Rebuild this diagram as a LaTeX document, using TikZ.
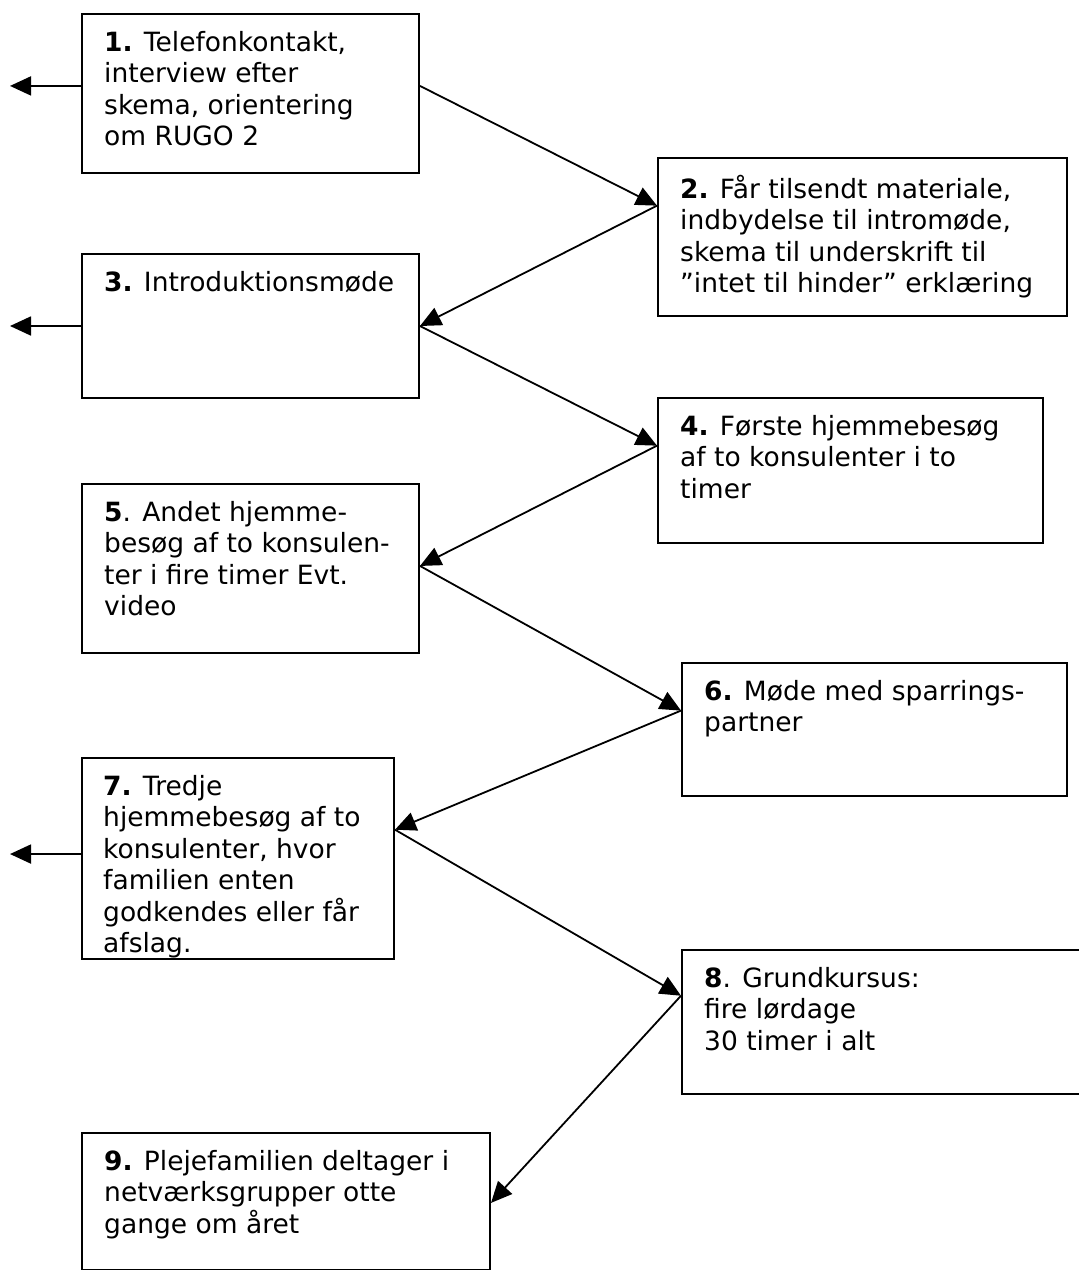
\documentclass[tikz,border=0pt]{standalone}
\usepackage{fontspec}
\setmainfont{DejaVu Sans}
\usetikzlibrary{arrows.meta,calc}
\begin{document}
\begin{tikzpicture}[x=1pt,y=-1pt,
  box/.style={draw,line width=2pt,rectangle,inner sep=0pt,anchor=north west},
  txt/.style={anchor=north west,inner sep=0pt,align=left,font=\fontsize{26.5}{31.5}\selectfont},
  conn/.style={line width=1.8pt,-{Triangle[length=21pt,width=19pt]}}]
\useasboundingbox (0,0) rectangle (1079,1270);
\fill[white] (0,0) rectangle (1079,1270);
\clip (0,0) rectangle (1079,1270);
% boxes
\node[box,minimum width=337pt,minimum height=159pt] (b1) at (81,13) {};
\node[box,minimum width=409pt,minimum height=158pt] (b2) at (657,157) {};
\node[box,minimum width=337pt,minimum height=144pt] (b3) at (81,253) {};
\node[box,minimum width=385pt,minimum height=145pt] (b4) at (657,397) {};
\node[box,minimum width=337pt,minimum height=169pt] (b5) at (81,483) {};
\node[box,minimum width=385pt,minimum height=133pt] (b6) at (681,662) {};
\node[box,minimum width=312pt,minimum height=201pt] (b7) at (81,757) {};
\node[box,minimum width=410pt,minimum height=144pt] (b8) at (681,949) {};
\node[box,minimum width=408pt,minimum height=137pt] (b9) at (81,1132) {};
% texts
\node[txt] (t1) at (104,31) {\textbf{1.} Telefonkontakt,\\interview efter\\skema, orientering\\om RUGO 2};
\node[txt] (t2) at (680,175) {\textbf{2.} Får tilsendt materiale,\\indbydelse til intromøde,\\skema til underskrift til\\”intet til hinder” erklæring};
\node[txt] (t3) at (104,271) {\textbf{3.} Introduktionsmøde};
\node[txt] (t4) at (680,415) {\textbf{4.} Første hjemmebesøg\\af to konsulenter i to\\timer};
\node[txt] (t5) at (104,501) {\textbf{5}. Andet hjemme-\\besøg af to konsulen-\\ter i fire timer Evt.\\video};
\node[txt] (t6) at (704,680) {\textbf{6.} Møde med sparrings-\\partner};
\node[txt] (t7) at (103,775) {\textbf{7.} Tredje\\hjemmebesøg af to\\konsulenter, hvor\\familien enten\\godkendes eller får\\afslag.};
\node[txt] (t8) at (704,967) {\textbf{8}. Grundkursus:\\fire lørdage\\30 timer i alt};
\node[txt] (t9) at (104,1150) {\textbf{9.} Plejefamilien deltager i\\netværksgrupper otte\\gange om året};
% connector points
\coordinate (p1) at ($(b1.north east)!0.453!(b1.south east)$);
\coordinate (p2) at ($(b2.north west)!0.304!(b2.south west)$);
\coordinate (p3) at ($(b3.north east)!0.5!(b3.south east)$);
\coordinate (p4) at ($(b4.north west)!0.331!(b4.south west)$);
\coordinate (p5) at ($(b5.north east)!0.485!(b5.south east)$);
\coordinate (p6) at ($(b6.north west)!0.36!(b6.south west)$);
\coordinate (p7) at ($(b7.north east)!0.358!(b7.south east)$);
\coordinate (p8) at ($(b8.north west)!0.32!(b8.south west)$);
\coordinate (p9) at ($(b9.north east)!0.51!(b9.south east)$);
\draw[conn] (p1) -- (p2);
\draw[conn] (p2) -- (p3);
\draw[conn] (p3) -- (p4);
\draw[conn] (p4) -- (p5);
\draw[conn] (p5) -- (p6);
\draw[conn] (p6) -- (p7);
\draw[conn] (p7) -- (p8);
\draw[conn] (p8) -- (p9);
% left exits
\coordinate (q1) at ($(b1.north west)!0.453!(b1.south west)$);
\coordinate (q3) at ($(b3.north west)!0.5!(b3.south west)$);
\coordinate (q7) at ($(b7.north west)!0.478!(b7.south west)$);
\path (q1) ++(-71,0) coordinate (e1);
\path (q3) ++(-71,0) coordinate (e3);
\path (q7) ++(-71,0) coordinate (e7);
\draw[conn] (q1) -- (e1);
\draw[conn] (q3) -- (e3);
\draw[conn] (q7) -- (e7);
\end{tikzpicture}
\end{document}
